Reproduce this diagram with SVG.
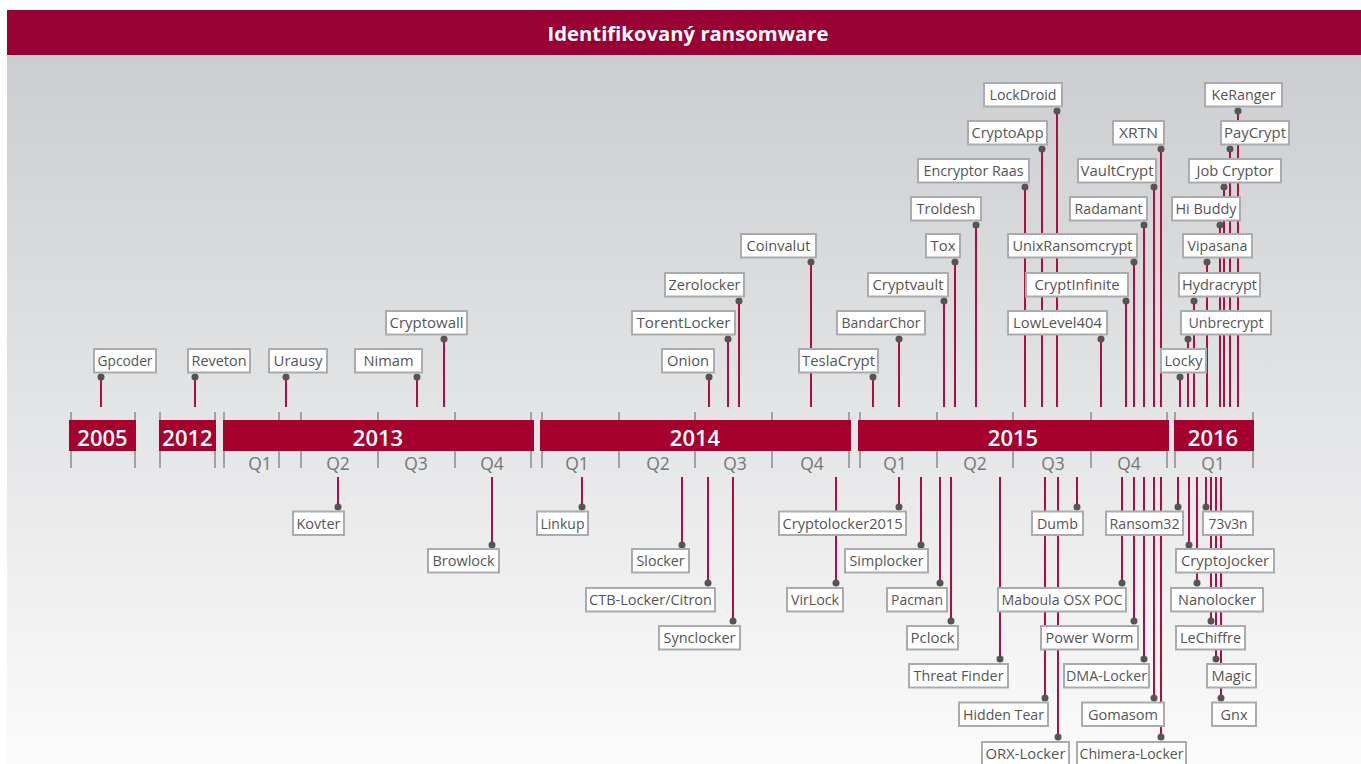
<svg xmlns="http://www.w3.org/2000/svg" width="1361" height="764" viewBox="0 0 1361 764">
<style>
.box{fill:#fff;stroke:#a9abad;stroke-width:2}
.lbl{font-family:"Open Sans","Noto Sans","Liberation Sans",sans-serif;font-size:14.5px;fill:#555;text-anchor:middle}
.con{stroke:#b30d3e;stroke-width:2;fill:none}
.dot{fill:#555}
.tick{stroke:#a0a2a4;stroke-width:2}
.bar{fill:#a6002f}
.yr{font-family:"Open Sans","Noto Sans","Liberation Sans",sans-serif;font-size:22px;font-weight:600;fill:#fff;text-anchor:middle}
.q{font-family:"Open Sans","Noto Sans","Liberation Sans",sans-serif;font-size:17.5px;fill:#777;text-anchor:middle}
.title{font-family:"Open Sans","Noto Sans","Liberation Sans",sans-serif;font-size:20px;font-weight:bold;fill:#fff;text-anchor:middle}
</style>
<defs>
<linearGradient id="bg" x1="0" y1="0" x2="0" y2="1">
<stop offset="0" stop-color="#cbcdd0"/>
<stop offset="1" stop-color="#fbfbfb"/>
</linearGradient>
</defs>
<rect x="0" y="0" width="1361" height="764" fill="#fff"/>
<rect x="7" y="55" width="1354" height="709" fill="url(#bg)"/>
<g id="header">
<rect x="7" y="10" width="1354" height="45" fill="#990033"/>
<text class="title" x="688" y="41" textLength="281" lengthAdjust="spacingAndGlyphs">Identifikovaný ransomware</text>
</g>
<g id="timeline">
<g class="tick">
<line x1="71" y1="412" x2="71" y2="468"/><line x1="135" y1="412" x2="135" y2="468"/>
<line x1="160" y1="412" x2="160" y2="468"/><line x1="215" y1="412" x2="215" y2="468"/>
<line x1="224" y1="412" x2="224" y2="468"/><line x1="279" y1="412" x2="279" y2="468"/>
<line x1="301" y1="412" x2="301" y2="468"/><line x1="378" y1="412" x2="378" y2="468"/>
<line x1="455" y1="412" x2="455" y2="468"/><line x1="531" y1="412" x2="531" y2="468"/>
<line x1="542" y1="412" x2="542" y2="468"/><line x1="619" y1="412" x2="619" y2="468"/>
<line x1="695" y1="412" x2="695" y2="468"/><line x1="772" y1="412" x2="772" y2="468"/>
<line x1="849" y1="412" x2="849" y2="468"/><line x1="860" y1="412" x2="860" y2="468"/>
<line x1="937" y1="412" x2="937" y2="468"/><line x1="1013" y1="412" x2="1013" y2="468"/>
<line x1="1091" y1="412" x2="1091" y2="468"/><line x1="1167" y1="412" x2="1167" y2="468"/>
<line x1="1175" y1="412" x2="1175" y2="468"/><line x1="1253" y1="412" x2="1253" y2="468"/>
</g>
<rect class="bar" x="69" y="420" width="67" height="31"/>
<rect class="bar" x="159" y="420" width="57" height="31"/>
<rect class="bar" x="223" y="420" width="311" height="31"/>
<rect class="bar" x="540" y="420" width="311" height="31"/>
<rect class="bar" x="858" y="420" width="311" height="31"/>
<rect class="bar" x="1174" y="420" width="80" height="31"/>
<text class="yr" x="102.5" y="446">2005</text>
<text class="yr" x="187.5" y="446">2012</text>
<text class="yr" x="378" y="446">2013</text>
<text class="yr" x="695" y="446">2014</text>
<text class="yr" x="1013" y="446">2015</text>
<text class="yr" x="1213" y="446">2016</text>
<text class="q" x="260" y="470">Q1</text><text class="q" x="338" y="470">Q2</text>
<text class="q" x="416" y="470">Q3</text><text class="q" x="492" y="470">Q4</text>
<text class="q" x="577" y="470">Q1</text><text class="q" x="658" y="470">Q2</text>
<text class="q" x="735" y="470">Q3</text><text class="q" x="812" y="470">Q4</text>
<text class="q" x="895" y="470">Q1</text><text class="q" x="975" y="470">Q2</text>
<text class="q" x="1053" y="470">Q3</text><text class="q" x="1129" y="470">Q4</text>
<text class="q" x="1213" y="470">Q1</text>
</g>
<g id="connectors">
<g class="con">
<line x1="101" y1="377" x2="101" y2="407"/><line x1="195" y1="377" x2="195" y2="407"/>
<line x1="286" y1="377" x2="286" y2="407"/><line x1="417" y1="377" x2="417" y2="407"/>
<line x1="444" y1="339" x2="444" y2="407"/><line x1="709" y1="377" x2="709" y2="407"/>
<line x1="728" y1="339" x2="728" y2="407"/><line x1="739" y1="301" x2="739" y2="407"/>
<line x1="811" y1="262" x2="811" y2="407"/><line x1="873" y1="377" x2="873" y2="407"/>
<line x1="899" y1="339" x2="899" y2="407"/><line x1="944" y1="301" x2="944" y2="407"/>
<line x1="955" y1="262" x2="955" y2="407"/><line x1="976" y1="225" x2="976" y2="407"/>
<line x1="1025" y1="187" x2="1025" y2="407"/><line x1="1042" y1="149" x2="1042" y2="407"/>
<line x1="1057" y1="111" x2="1057" y2="407"/><line x1="1134" y1="262" x2="1134" y2="407"/>
<line x1="1126" y1="301" x2="1126" y2="407"/><line x1="1101" y1="339" x2="1101" y2="407"/>
<line x1="1144" y1="225" x2="1144" y2="407"/><line x1="1154" y1="187" x2="1154" y2="407"/>
<line x1="1161" y1="149" x2="1161" y2="407"/><line x1="1180" y1="377" x2="1180" y2="407"/>
<line x1="1188" y1="339" x2="1188" y2="407"/><line x1="1194" y1="301" x2="1194" y2="407"/>
<line x1="1207" y1="262" x2="1207" y2="407"/><line x1="1220" y1="225" x2="1220" y2="407"/>
<line x1="1224" y1="187" x2="1224" y2="407"/><line x1="1230" y1="149" x2="1230" y2="407"/>
<line x1="1238" y1="111" x2="1238" y2="407"/>
<line x1="338" y1="477" x2="338" y2="507"/><line x1="492" y1="477" x2="492" y2="545"/>
<line x1="582" y1="477" x2="582" y2="507"/><line x1="682" y1="477" x2="682" y2="545"/>
<line x1="708" y1="477" x2="708" y2="583"/><line x1="733" y1="477" x2="733" y2="621"/>
<line x1="899" y1="477" x2="899" y2="507"/><line x1="836" y1="477" x2="836" y2="583"/>
<line x1="921" y1="477" x2="921" y2="545"/><line x1="940" y1="477" x2="940" y2="583"/>
<line x1="951" y1="477" x2="951" y2="621"/><line x1="1000" y1="477" x2="1000" y2="659"/>
<line x1="1045" y1="477" x2="1045" y2="698"/><line x1="1058" y1="477" x2="1058" y2="737"/>
<line x1="1077" y1="477" x2="1077" y2="507"/><line x1="1122" y1="477" x2="1122" y2="583"/>
<line x1="1134" y1="477" x2="1134" y2="621"/><line x1="1144" y1="477" x2="1144" y2="659"/>
<line x1="1154" y1="477" x2="1154" y2="698"/><line x1="1161" y1="477" x2="1161" y2="737"/>
<line x1="1178" y1="477" x2="1178" y2="507"/><line x1="1189" y1="477" x2="1189" y2="545"/>
<line x1="1197" y1="477" x2="1197" y2="583"/><line x1="1211" y1="477" x2="1211" y2="621"/>
<line x1="1216" y1="477" x2="1216" y2="659"/><line x1="1221" y1="477" x2="1221" y2="698"/>
<line x1="1206" y1="477" x2="1206" y2="507"/>
</g>
<g class="dot">
<circle cx="101" cy="377" r="3.5"/><circle cx="195" cy="377" r="3.5"/>
<circle cx="286" cy="377" r="3.5"/><circle cx="417" cy="377" r="3.5"/>
<circle cx="444" cy="339" r="3.5"/><circle cx="709" cy="377" r="3.5"/>
<circle cx="728" cy="339" r="3.5"/><circle cx="739" cy="301" r="3.5"/>
<circle cx="811" cy="262" r="3.5"/><circle cx="873" cy="377" r="3.5"/>
<circle cx="899" cy="339" r="3.5"/><circle cx="944" cy="301" r="3.5"/>
<circle cx="955" cy="262" r="3.5"/><circle cx="976" cy="225" r="3.5"/>
<circle cx="1025" cy="187" r="3.5"/><circle cx="1042" cy="149" r="3.5"/>
<circle cx="1057" cy="111" r="3.5"/><circle cx="1134" cy="262" r="3.5"/>
<circle cx="1126" cy="301" r="3.5"/><circle cx="1101" cy="339" r="3.5"/>
<circle cx="1144" cy="225" r="3.5"/><circle cx="1154" cy="187" r="3.5"/>
<circle cx="1161" cy="149" r="3.5"/><circle cx="1180" cy="377" r="3.5"/>
<circle cx="1188" cy="339" r="3.5"/><circle cx="1194" cy="301" r="3.5"/>
<circle cx="1207" cy="262" r="3.5"/><circle cx="1220" cy="225" r="3.5"/>
<circle cx="1224" cy="187" r="3.5"/><circle cx="1230" cy="149" r="3.5"/>
<circle cx="1238" cy="111" r="3.5"/>
<circle cx="338" cy="507" r="3.5"/><circle cx="492" cy="545" r="3.5"/>
<circle cx="582" cy="507" r="3.5"/><circle cx="682" cy="545" r="3.5"/>
<circle cx="708" cy="583" r="3.5"/><circle cx="733" cy="621" r="3.5"/>
<circle cx="899" cy="507" r="3.5"/><circle cx="836" cy="583" r="3.5"/>
<circle cx="921" cy="545" r="3.5"/><circle cx="940" cy="583" r="3.5"/>
<circle cx="951" cy="621" r="3.5"/><circle cx="1000" cy="659" r="3.5"/>
<circle cx="1045" cy="698" r="3.5"/><circle cx="1058" cy="737" r="3.5"/>
<circle cx="1077" cy="507" r="3.5"/><circle cx="1122" cy="583" r="3.5"/>
<circle cx="1134" cy="621" r="3.5"/><circle cx="1144" cy="659" r="3.5"/>
<circle cx="1154" cy="698" r="3.5"/><circle cx="1161" cy="737" r="3.5"/>
<circle cx="1178" cy="507" r="3.5"/><circle cx="1189" cy="545" r="3.5"/>
<circle cx="1197" cy="583" r="3.5"/><circle cx="1211" cy="621" r="3.5"/>
<circle cx="1216" cy="659" r="3.5"/><circle cx="1221" cy="698" r="3.5"/>
<circle cx="1206" cy="507" r="3.5"/>
</g>
</g>
<g id="n-gpcoder"><rect class="box" x="94" y="349" width="62" height="23.5"/><text class="lbl" x="125" y="366" textLength="55" lengthAdjust="spacingAndGlyphs">Gpcoder</text></g>
<g id="n-reveton"><rect class="box" x="188" y="349" width="62" height="23.5"/><text class="lbl" x="219" y="366" textLength="55" lengthAdjust="spacingAndGlyphs">Reveton</text></g>
<g id="n-urausy"><rect class="box" x="269" y="349" width="58" height="23.5"/><text class="lbl" x="298" y="366" textLength="49" lengthAdjust="spacingAndGlyphs">Urausy</text></g>
<g id="n-nimam"><rect class="box" x="355" y="349" width="67" height="23.5"/><text class="lbl" x="388.5" y="366" textLength="50" lengthAdjust="spacingAndGlyphs">Nimam</text></g>
<g id="n-cryptowall"><rect class="box" x="386" y="311" width="81" height="23.5"/><text class="lbl" x="426.5" y="328" textLength="74" lengthAdjust="spacingAndGlyphs">Cryptowall</text></g>
<g id="n-onion"><rect class="box" x="662" y="349" width="52" height="23.5"/><text class="lbl" x="688" y="366" textLength="42" lengthAdjust="spacingAndGlyphs">Onion</text></g>
<g id="n-torentlocker"><rect class="box" x="632" y="311" width="103" height="23.5"/><text class="lbl" x="683.5" y="328" textLength="94" lengthAdjust="spacingAndGlyphs">TorentLocker</text></g>
<g id="n-zerolocker"><rect class="box" x="665" y="273" width="79" height="23.5"/><text class="lbl" x="704.5" y="290" textLength="72" lengthAdjust="spacingAndGlyphs">Zerolocker</text></g>
<g id="n-coinvalut"><rect class="box" x="741" y="234" width="75" height="23.5"/><text class="lbl" x="778.5" y="251" textLength="64" lengthAdjust="spacingAndGlyphs">Coinvalut</text></g>
<g id="n-teslacrypt"><rect class="box" x="799" y="349" width="79" height="23.5"/><text class="lbl" x="838.5" y="366" textLength="73" lengthAdjust="spacingAndGlyphs">TeslaCrypt</text></g>
<g id="n-bandarchor"><rect class="box" x="837" y="311" width="88" height="23.5"/><text class="lbl" x="881" y="328" textLength="79" lengthAdjust="spacingAndGlyphs">BandarChor</text></g>
<g id="n-cryptvault"><rect class="box" x="868" y="273" width="80" height="23.5"/><text class="lbl" x="908" y="290" textLength="71" lengthAdjust="spacingAndGlyphs">Cryptvault</text></g>
<g id="n-tox"><rect class="box" x="926" y="234" width="34" height="23.5"/><text class="lbl" x="943" y="251" textLength="25" lengthAdjust="spacingAndGlyphs">Tox</text></g>
<g id="n-troldesh"><rect class="box" x="911" y="197" width="70" height="23.5"/><text class="lbl" x="946" y="214" textLength="59" lengthAdjust="spacingAndGlyphs">Troldesh</text></g>
<g id="n-encryptor-raas"><rect class="box" x="918" y="159" width="111" height="23.5"/><text class="lbl" x="973.5" y="176" textLength="100" lengthAdjust="spacingAndGlyphs">Encryptor Raas</text></g>
<g id="n-cryptoapp"><rect class="box" x="968" y="121" width="79" height="23.5"/><text class="lbl" x="1007.5" y="138" textLength="72" lengthAdjust="spacingAndGlyphs">CryptoApp</text></g>
<g id="n-lockdroid"><rect class="box" x="984" y="83" width="78" height="23.5"/><text class="lbl" x="1023" y="100" textLength="67" lengthAdjust="spacingAndGlyphs">LockDroid</text></g>
<g id="n-unixransomcrypt"><rect class="box" x="1008" y="234" width="129" height="23.5"/><text class="lbl" x="1072.5" y="251" textLength="120" lengthAdjust="spacingAndGlyphs">UnixRansomcrypt</text></g>
<g id="n-cryptinfinite"><rect class="box" x="1026" y="273" width="102" height="23.5"/><text class="lbl" x="1077" y="290" textLength="85" lengthAdjust="spacingAndGlyphs">CryptInfinite</text></g>
<g id="n-lowlevel404"><rect class="box" x="1008" y="311" width="99" height="23.5"/><text class="lbl" x="1057.5" y="328" textLength="89" lengthAdjust="spacingAndGlyphs">LowLevel404</text></g>
<g id="n-radamant"><rect class="box" x="1070" y="197" width="77" height="23.5"/><text class="lbl" x="1108.5" y="214" textLength="68" lengthAdjust="spacingAndGlyphs">Radamant</text></g>
<g id="n-vaultcrypt"><rect class="box" x="1078" y="159" width="78" height="23.5"/><text class="lbl" x="1117" y="176" textLength="73" lengthAdjust="spacingAndGlyphs">VaultCrypt</text></g>
<g id="n-xrtn"><rect class="box" x="1113" y="121" width="51" height="23.5"/><text class="lbl" x="1138.5" y="138" textLength="39" lengthAdjust="spacingAndGlyphs">XRTN</text></g>
<g id="n-locky"><rect class="box" x="1161" y="349" width="45" height="23.5"/><text class="lbl" x="1183.5" y="366" textLength="38" lengthAdjust="spacingAndGlyphs">Locky</text></g>
<g id="n-unbrecrypt"><rect class="box" x="1181" y="311" width="90" height="23.5"/><text class="lbl" x="1226" y="328" textLength="75" lengthAdjust="spacingAndGlyphs">Unbrecrypt</text></g>
<g id="n-hydracrypt"><rect class="box" x="1179" y="273" width="81" height="23.5"/><text class="lbl" x="1219.5" y="290" textLength="75" lengthAdjust="spacingAndGlyphs">Hydracrypt</text></g>
<g id="n-vipasana"><rect class="box" x="1183" y="234" width="69" height="23.5"/><text class="lbl" x="1217.5" y="251" textLength="60" lengthAdjust="spacingAndGlyphs">Vipasana</text></g>
<g id="n-hibuddy"><rect class="box" x="1172" y="197" width="68" height="23.5"/><text class="lbl" x="1206" y="214" textLength="61" lengthAdjust="spacingAndGlyphs">Hi Buddy</text></g>
<g id="n-jobcryptor"><rect class="box" x="1189" y="159" width="92" height="23.5"/><text class="lbl" x="1235" y="176" textLength="77" lengthAdjust="spacingAndGlyphs">Job Cryptor</text></g>
<g id="n-paycrypt"><rect class="box" x="1221" y="121" width="68" height="23.5"/><text class="lbl" x="1255" y="138" textLength="62" lengthAdjust="spacingAndGlyphs">PayCrypt</text></g>
<g id="n-keranger"><rect class="box" x="1205" y="83" width="77" height="23.5"/><text class="lbl" x="1243.5" y="100" textLength="64" lengthAdjust="spacingAndGlyphs">KeRanger</text></g>
<g id="n-kovter"><rect class="box" x="293" y="511.5" width="51" height="23.5"/><text class="lbl" x="318.5" y="528.5" textLength="44" lengthAdjust="spacingAndGlyphs">Kovter</text></g>
<g id="n-browlock"><rect class="box" x="428" y="549" width="71" height="23.5"/><text class="lbl" x="463.5" y="566" textLength="62" lengthAdjust="spacingAndGlyphs">Browlock</text></g>
<g id="n-linkup"><rect class="box" x="537" y="511.5" width="51" height="23.5"/><text class="lbl" x="562.5" y="528.5" textLength="44" lengthAdjust="spacingAndGlyphs">Linkup</text></g>
<g id="n-slocker"><rect class="box" x="632" y="549" width="57" height="23.5"/><text class="lbl" x="660.5" y="566" textLength="48" lengthAdjust="spacingAndGlyphs">Slocker</text></g>
<g id="n-ctb-locker"><rect class="box" x="586" y="588" width="129" height="23.5"/><text class="lbl" x="650.5" y="605" textLength="123" lengthAdjust="spacingAndGlyphs">CTB-Locker/Citron</text></g>
<g id="n-synclocker"><rect class="box" x="659" y="626" width="81" height="23.5"/><text class="lbl" x="699.5" y="643" textLength="72" lengthAdjust="spacingAndGlyphs">Synclocker</text></g>
<g id="n-cryptolocker2015"><rect class="box" x="779" y="511.5" width="127" height="23.5"/><text class="lbl" x="842.5" y="528.5" textLength="120" lengthAdjust="spacingAndGlyphs">Cryptolocker2015</text></g>
<g id="n-virlock"><rect class="box" x="787" y="588" width="56" height="23.5"/><text class="lbl" x="815" y="605" textLength="48" lengthAdjust="spacingAndGlyphs">VirLock</text></g>
<g id="n-simplocker"><rect class="box" x="845" y="549" width="83" height="23.5"/><text class="lbl" x="886.5" y="566" textLength="74" lengthAdjust="spacingAndGlyphs">Simplocker</text></g>
<g id="n-pacman"><rect class="box" x="887" y="588" width="60" height="23.5"/><text class="lbl" x="917" y="605" textLength="52" lengthAdjust="spacingAndGlyphs">Pacman</text></g>
<g id="n-pclock"><rect class="box" x="907" y="626" width="51" height="23.5"/><text class="lbl" x="932.5" y="643" textLength="44" lengthAdjust="spacingAndGlyphs">Pclock</text></g>
<g id="n-threatfinder"><rect class="box" x="909" y="664" width="99" height="23.5"/><text class="lbl" x="958.5" y="681" textLength="90" lengthAdjust="spacingAndGlyphs">Threat Finder</text></g>
<g id="n-hiddentear"><rect class="box" x="959" y="702.5" width="89" height="23.5"/><text class="lbl" x="1003.5" y="719.5" textLength="81" lengthAdjust="spacingAndGlyphs">Hidden Tear</text></g>
<g id="n-orx-locker"><rect class="box" x="982" y="742" width="87" height="23.5"/><text class="lbl" x="1025.5" y="759" textLength="80" lengthAdjust="spacingAndGlyphs">ORX-Locker</text></g>
<g id="n-dumb"><rect class="box" x="1032" y="511.5" width="51" height="23.5"/><text class="lbl" x="1057.5" y="528.5" textLength="41" lengthAdjust="spacingAndGlyphs">Dumb</text></g>
<g id="n-maboula"><rect class="box" x="998" y="588" width="128" height="23.5"/><text class="lbl" x="1062" y="605" textLength="121" lengthAdjust="spacingAndGlyphs">Maboula OSX POC</text></g>
<g id="n-powerworm"><rect class="box" x="1041" y="626" width="97" height="23.5"/><text class="lbl" x="1089.5" y="643" textLength="88" lengthAdjust="spacingAndGlyphs">Power Worm</text></g>
<g id="n-dma-locker"><rect class="box" x="1064" y="664" width="85" height="23.5"/><text class="lbl" x="1106.5" y="681" textLength="81" lengthAdjust="spacingAndGlyphs">DMA-Locker</text></g>
<g id="n-gomasom"><rect class="box" x="1082" y="702.5" width="82" height="23.5"/><text class="lbl" x="1123" y="719.5" textLength="70" lengthAdjust="spacingAndGlyphs">Gomasom</text></g>
<g id="n-chimera-locker"><rect class="box" x="1077" y="742" width="109" height="23.5"/><text class="lbl" x="1131.5" y="759" textLength="104" lengthAdjust="spacingAndGlyphs">Chimera-Locker</text></g>
<g id="n-ransom32"><rect class="box" x="1106" y="511.5" width="77" height="23.5"/><text class="lbl" x="1144.5" y="528.5" textLength="70" lengthAdjust="spacingAndGlyphs">Ransom32</text></g>
<g id="n-73v3n"><rect class="box" x="1203" y="511.5" width="50" height="23.5"/><text class="lbl" x="1228" y="528.5" textLength="39" lengthAdjust="spacingAndGlyphs">73v3n</text></g>
<g id="n-cryptojocker"><rect class="box" x="1176" y="549" width="98" height="23.5"/><text class="lbl" x="1225" y="566" textLength="88" lengthAdjust="spacingAndGlyphs">CryptoJocker</text></g>
<g id="n-nanolocker"><rect class="box" x="1171" y="588" width="92" height="23.5"/><text class="lbl" x="1217" y="605" textLength="78" lengthAdjust="spacingAndGlyphs">Nanolocker</text></g>
<g id="n-lechiffre"><rect class="box" x="1176" y="626" width="69" height="23.5"/><text class="lbl" x="1210.5" y="643" textLength="61" lengthAdjust="spacingAndGlyphs">LeChiffre</text></g>
<g id="n-magic"><rect class="box" x="1207" y="664" width="49" height="23.5"/><text class="lbl" x="1231.5" y="681" textLength="40" lengthAdjust="spacingAndGlyphs">Magic</text></g>
<g id="n-gnx"><rect class="box" x="1212" y="702.5" width="44" height="23.5"/><text class="lbl" x="1234" y="719.5" textLength="27" lengthAdjust="spacingAndGlyphs">Gnx</text></g>
</svg>
